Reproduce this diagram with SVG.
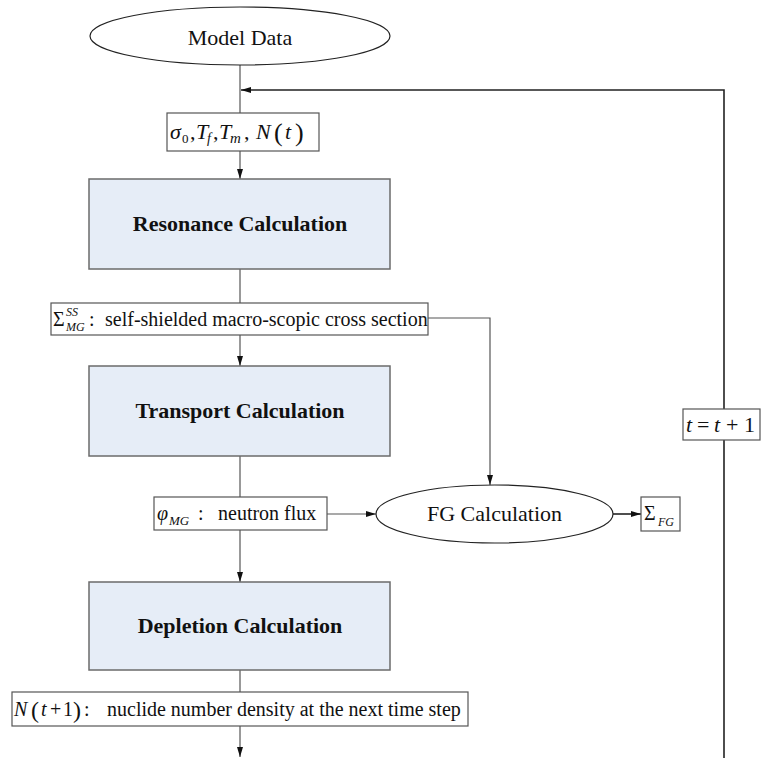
<svg xmlns="http://www.w3.org/2000/svg" width="761" height="758" viewBox="0 0 761 758">
  <style>
    .txt { font-family: "Liberation Serif", "Times New Roman", serif; fill: #111; }
    .it { font-style: italic; }
    .calc { fill: #e6edf7; stroke: #6b6b6b; stroke-width: 1.5; }
    .lbl { fill: #fff; stroke: #555; stroke-width: 1.2; }
    .oval { fill: #fff; stroke: #222; stroke-width: 1.2; }
    .flow { fill: none; stroke: #555; stroke-width: 1.2; }
    .loop { fill: none; stroke: #222; stroke-width: 1.6; }
  </style>
  <defs>
    <marker id="arr" viewBox="0 0 10 6" markerWidth="10" markerHeight="6" refX="10" refY="3" orient="auto" markerUnits="userSpaceOnUse">
      <path d="M0,0 L10,3 L0,6 z" fill="#111"/>
    </marker>
  </defs>

  <rect width="761" height="758" fill="#fff"/>

  <!-- connectors -->
  <g id="connectors">
    <line class="flow" x1="240" y1="65" x2="240" y2="113"/>
    <line class="flow" x1="240" y1="151" x2="240" y2="179" marker-end="url(#arr)"/>
    <line class="flow" x1="240" y1="269" x2="240" y2="303"/>
    <line class="flow" x1="240" y1="335" x2="240" y2="366" marker-end="url(#arr)"/>
    <polyline class="flow" points="428,318 490,318 490,485" marker-end="url(#arr)"/>
    <line class="flow" x1="240" y1="456" x2="240" y2="497"/>
    <line class="flow" x1="327" y1="514" x2="376" y2="514" marker-end="url(#arr)"/>
    <line class="loop" x1="613" y1="514" x2="641" y2="514" marker-end="url(#arr)"/>
    <line class="flow" x1="240" y1="530" x2="240" y2="582" marker-end="url(#arr)"/>
    <line class="flow" x1="240" y1="670" x2="240" y2="692"/>
    <line class="flow" x1="240" y1="726" x2="240" y2="757" marker-end="url(#arr)"/>
    <polyline class="loop" points="724,758 724,90 241,90" marker-end="url(#arr)"/>
  </g>

  <!-- Model Data -->
  <g id="model-data">
    <ellipse class="oval" cx="240" cy="36" rx="150" ry="29"/>
    <text class="txt" x="240" y="45" font-size="22" text-anchor="middle">Model Data</text>
  </g>

  <!-- input parameters -->
  <g id="inputs">
    <rect class="lbl" x="167" y="113" width="152" height="38"/>
    <text class="txt" y="139" font-size="22">
      <tspan class="it" x="170">σ</tspan><tspan x="182" y="143" font-size="13">0</tspan><tspan x="190" y="139">,</tspan><tspan class="it" x="196">T</tspan><tspan class="it" x="207" y="143" font-size="14">f</tspan><tspan x="213" y="139">,</tspan><tspan class="it" x="219">T</tspan><tspan class="it" x="230" y="143" font-size="15">m</tspan><tspan x="244" y="139">,</tspan><tspan class="it" x="256">N</tspan><tspan x="274" y="141" font-size="26">(</tspan><tspan class="it" x="285" y="139">t</tspan><tspan x="295" y="141" font-size="26">)</tspan>
    </text>
  </g>

  <!-- Resonance Calculation -->
  <g id="resonance">
    <rect class="calc" x="89" y="179" width="301" height="90"/>
    <text class="txt" x="240" y="231" font-size="22" font-weight="bold" text-anchor="middle">Resonance Calculation</text>
  </g>

  <!-- self-shielded cross section -->
  <g id="xs-ss">
    <rect class="lbl" x="51" y="303" width="377" height="32"/>
    <text class="txt" y="326" font-size="20">
      <tspan x="53">Σ</tspan><tspan class="it" x="66" y="316" font-size="12">SS</tspan><tspan class="it" x="66" y="331" font-size="12">MG</tspan><tspan x="89" y="326">:</tspan><tspan x="105">self-shielded macro-scopic cross section</tspan>
    </text>
  </g>

  <!-- Transport Calculation -->
  <g id="transport">
    <rect class="calc" x="89" y="366" width="301" height="90"/>
    <text class="txt" x="240" y="418" font-size="22" font-weight="bold" text-anchor="middle">Transport Calculation</text>
  </g>

  <!-- neutron flux -->
  <g id="flux">
    <rect class="lbl" x="154" y="497" width="173" height="33"/>
    <text class="txt" y="520" font-size="20">
      <tspan class="it" x="157">φ</tspan><tspan class="it" x="169" y="525" font-size="13">MG</tspan><tspan x="198" y="520">:</tspan><tspan x="218">neutron flux</tspan>
    </text>
  </g>

  <!-- FG Calculation -->
  <g id="fg-calc">
    <ellipse class="oval" cx="494.5" cy="514" rx="118.5" ry="29"/>
    <text class="txt" x="494.5" y="521" font-size="22" text-anchor="middle">FG Calculation</text>
  </g>

  <!-- few-group cross section -->
  <g id="xs-fg">
    <rect class="lbl" x="641" y="497" width="39" height="34"/>
    <text class="txt" y="520" font-size="20">
      <tspan x="644">Σ</tspan><tspan class="it" x="658" y="526" font-size="12">FG</tspan>
    </text>
  </g>

  <!-- Depletion Calculation -->
  <g id="depletion">
    <rect class="calc" x="89" y="582" width="301" height="88"/>
    <text class="txt" x="240" y="633" font-size="22" font-weight="bold" text-anchor="middle">Depletion Calculation</text>
  </g>

  <!-- updated number density -->
  <g id="density">
    <rect class="lbl" x="12" y="692" width="456" height="34"/>
    <text class="txt" y="716" font-size="20">
      <tspan class="it" x="14">N</tspan><tspan x="31" y="718" font-size="24">(</tspan><tspan class="it" x="41" y="716">t</tspan><tspan x="50">+</tspan><tspan x="63">1</tspan><tspan x="73" y="718" font-size="24">)</tspan><tspan x="84" y="716">:</tspan><tspan x="107">nuclide number density at the next time step</tspan>
    </text>
  </g>

  <!-- time step update -->
  <g id="time-step">
    <rect class="lbl" x="683" y="409" width="77" height="31"/>
    <text class="txt" y="432" font-size="22">
      <tspan class="it" x="686">t</tspan><tspan x="697">=</tspan><tspan class="it" x="714">t</tspan><tspan x="726">+</tspan><tspan x="744">1</tspan>
    </text>
  </g>
</svg>
